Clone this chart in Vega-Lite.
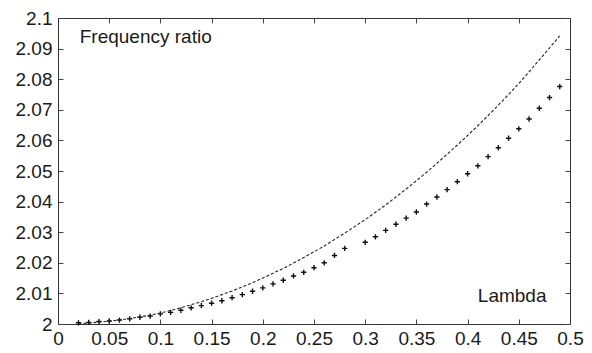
{
  "$schema": "https://vega.github.io/schema/vega-lite/v6.json",
  "width": 512,
  "height": 306,
  "autosize": {"type": "none"},
  "padding": {"left": 58, "top": 18, "right": 22, "bottom": 29},
  "background": "white",
  "config": {
    "view": {"stroke": null},
    "font": "Liberation Sans",
    "axis": {
      "labelFont": "Liberation Sans",
      "labelFontSize": 19,
      "labelColor": "#1a1a1a",
      "domainColor": "#333333",
      "tickColor": "#444444",
      "domainWidth": 1,
      "tickWidth": 1,
      "grid": false,
      "title": null
    }
  },
  "datasets": {
    "crosses": [
      {"lambda": 0.02, "ratio": 2.0004}, {"lambda": 0.03, "ratio": 2.0005}, {"lambda": 0.04, "ratio": 2.0008},
      {"lambda": 0.05, "ratio": 2.0010}, {"lambda": 0.06, "ratio": 2.0013}, {"lambda": 0.07, "ratio": 2.0017},
      {"lambda": 0.08, "ratio": 2.0022}, {"lambda": 0.09, "ratio": 2.0026}, {"lambda": 0.10, "ratio": 2.0033},
      {"lambda": 0.11, "ratio": 2.0038}, {"lambda": 0.12, "ratio": 2.0045}, {"lambda": 0.13, "ratio": 2.0053},
      {"lambda": 0.14, "ratio": 2.0060}, {"lambda": 0.15, "ratio": 2.0068}, {"lambda": 0.16, "ratio": 2.0076},
      {"lambda": 0.17, "ratio": 2.0086}, {"lambda": 0.18, "ratio": 2.0096}, {"lambda": 0.19, "ratio": 2.0107},
      {"lambda": 0.20, "ratio": 2.0118}, {"lambda": 0.21, "ratio": 2.0131}, {"lambda": 0.22, "ratio": 2.0143},
      {"lambda": 0.23, "ratio": 2.0157}, {"lambda": 0.24, "ratio": 2.0169}, {"lambda": 0.25, "ratio": 2.0184},
      {"lambda": 0.26, "ratio": 2.0200}, {"lambda": 0.27, "ratio": 2.0224}, {"lambda": 0.28, "ratio": 2.0247},
      {"lambda": 0.30, "ratio": 2.0267}, {"lambda": 0.31, "ratio": 2.0285}, {"lambda": 0.32, "ratio": 2.0306},
      {"lambda": 0.33, "ratio": 2.0326}, {"lambda": 0.34, "ratio": 2.0346}, {"lambda": 0.35, "ratio": 2.0366},
      {"lambda": 0.36, "ratio": 2.0392}, {"lambda": 0.37, "ratio": 2.0415}, {"lambda": 0.38, "ratio": 2.0439},
      {"lambda": 0.39, "ratio": 2.0465}, {"lambda": 0.40, "ratio": 2.0491}, {"lambda": 0.41, "ratio": 2.0517},
      {"lambda": 0.42, "ratio": 2.0547}, {"lambda": 0.43, "ratio": 2.0576}, {"lambda": 0.44, "ratio": 2.0607},
      {"lambda": 0.45, "ratio": 2.0638}, {"lambda": 0.46, "ratio": 2.0670}, {"lambda": 0.47, "ratio": 2.0705},
      {"lambda": 0.48, "ratio": 2.0740}, {"lambda": 0.49, "ratio": 2.0776}
    ],
    "dashed": [
      {"lambda": 0.02, "ratio": 2.0001}, {"lambda": 0.03, "ratio": 2.0003}, {"lambda": 0.04, "ratio": 2.0006},
      {"lambda": 0.05, "ratio": 2.0009}, {"lambda": 0.06, "ratio": 2.0013}, {"lambda": 0.07, "ratio": 2.0018},
      {"lambda": 0.08, "ratio": 2.0023}, {"lambda": 0.09, "ratio": 2.0029}, {"lambda": 0.10, "ratio": 2.0036},
      {"lambda": 0.11, "ratio": 2.0044}, {"lambda": 0.12, "ratio": 2.0053}, {"lambda": 0.13, "ratio": 2.0063},
      {"lambda": 0.14, "ratio": 2.0073}, {"lambda": 0.15, "ratio": 2.0084}, {"lambda": 0.16, "ratio": 2.0096},
      {"lambda": 0.17, "ratio": 2.0108}, {"lambda": 0.18, "ratio": 2.0121}, {"lambda": 0.19, "ratio": 2.0135},
      {"lambda": 0.20, "ratio": 2.0150}, {"lambda": 0.21, "ratio": 2.0166}, {"lambda": 0.22, "ratio": 2.0182},
      {"lambda": 0.23, "ratio": 2.0199}, {"lambda": 0.24, "ratio": 2.0217}, {"lambda": 0.25, "ratio": 2.0236},
      {"lambda": 0.26, "ratio": 2.0255}, {"lambda": 0.27, "ratio": 2.0276}, {"lambda": 0.28, "ratio": 2.0297},
      {"lambda": 0.29, "ratio": 2.0319}, {"lambda": 0.30, "ratio": 2.0341}, {"lambda": 0.31, "ratio": 2.0365},
      {"lambda": 0.32, "ratio": 2.0389}, {"lambda": 0.33, "ratio": 2.0415}, {"lambda": 0.34, "ratio": 2.0441},
      {"lambda": 0.35, "ratio": 2.0468}, {"lambda": 0.36, "ratio": 2.0496}, {"lambda": 0.37, "ratio": 2.0525},
      {"lambda": 0.38, "ratio": 2.0555}, {"lambda": 0.39, "ratio": 2.0585}, {"lambda": 0.40, "ratio": 2.0616},
      {"lambda": 0.41, "ratio": 2.0648}, {"lambda": 0.42, "ratio": 2.0681}, {"lambda": 0.43, "ratio": 2.0715},
      {"lambda": 0.44, "ratio": 2.0750}, {"lambda": 0.45, "ratio": 2.0786}, {"lambda": 0.46, "ratio": 2.0824},
      {"lambda": 0.47, "ratio": 2.0863}, {"lambda": 0.48, "ratio": 2.0902}, {"lambda": 0.49, "ratio": 2.0942}
    ],
    "labels": [
      {"lambda": 0.0212, "ratio": 2.0918, "text": "Frequency ratio"},
      {"lambda": 0.41, "ratio": 2.0072, "text": "Lambda"}
    ]
  },
  "resolve": {"axis": {"x": "independent", "y": "independent"}},
  "layer": [
    {
      "data": {"name": "crosses"},
      "mark": {
        "type": "point",
        "shape": "M-1,0H1M0,-1V1",
        "filled": false,
        "stroke": "#111111",
        "strokeWidth": 1.4,
        "size": 28,
        "opacity": 1
      },
      "encoding": {
        "x": {
          "field": "lambda", "type": "quantitative",
          "scale": {"domain": [0, 0.5], "nice": false, "zero": false},
          "axis": {
            "orient": "bottom",
            "values": [0, 0.05, 0.1, 0.15, 0.2, 0.25, 0.3, 0.35, 0.4, 0.45, 0.5],
            "format": "~f",
            "tickSize": -5,
            "labelPadding": 10,
            "labelFlush": false,
            "labelOverlap": false
          }
        },
        "y": {
          "field": "ratio", "type": "quantitative",
          "scale": {"domain": [2, 2.1], "nice": false, "zero": false},
          "axis": {
            "orient": "left",
            "values": [2, 2.01, 2.02, 2.03, 2.04, 2.05, 2.06, 2.07, 2.08, 2.09, 2.1],
            "format": "~f",
            "tickSize": -5,
            "labelPadding": 11,
            "labelFlush": false,
            "labelOverlap": false
          }
        }
      }
    },
    {
      "data": {"name": "dashed"},
      "mark": {"type": "line", "stroke": "#222222", "strokeWidth": 1.1, "strokeDash": [3, 2]},
      "encoding": {
        "x": {
          "field": "lambda", "type": "quantitative",
          "axis": {
            "orient": "top",
            "values": [0, 0.05, 0.1, 0.15, 0.2, 0.25, 0.3, 0.35, 0.4, 0.45, 0.5],
            "labels": false,
            "tickSize": -5
          }
        },
        "y": {
          "field": "ratio", "type": "quantitative",
          "axis": {
            "orient": "right",
            "values": [2, 2.01, 2.02, 2.03, 2.04, 2.05, 2.06, 2.07, 2.08, 2.09, 2.1],
            "labels": false,
            "tickSize": -5
          }
        }
      }
    },
    {
      "data": {"name": "labels"},
      "mark": {"type": "text", "align": "left", "baseline": "alphabetic", "font": "Liberation Sans", "fontSize": 19, "color": "#1a1a1a"},
      "encoding": {
        "x": {"field": "lambda", "type": "quantitative", "axis": null},
        "y": {"field": "ratio", "type": "quantitative", "axis": null},
        "text": {"field": "text"}
      }
    }
  ]
}
